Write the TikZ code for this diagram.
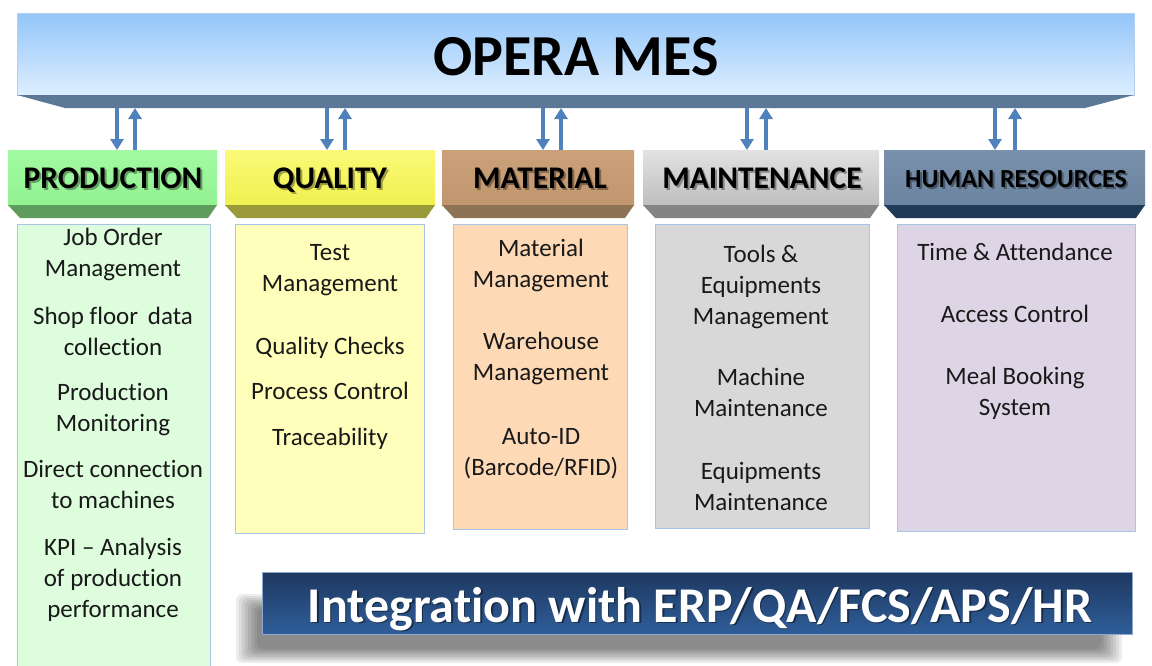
\documentclass[tikz,border=0pt]{standalone}
\usepackage{fontspec}
\setmainfont{Carlito}[Ligatures=NoCommon]
\usetikzlibrary{arrows.meta}
\definecolor{bannerTop}{HTML}{93C6FA}
\definecolor{bannerBot}{HTML}{DDEEFE}
\definecolor{bannerEdge}{HTML}{B5CFEE}
\definecolor{bannerBar}{HTML}{5B7896}
\definecolor{arrowBlue}{HTML}{4F81BD}
\definecolor{boxEdge}{HTML}{A8C4E6}
\definecolor{prodTop}{HTML}{A2FAA2}
\definecolor{prodBot}{HTML}{92F292}
\definecolor{prodBev}{HTML}{5E9C5E}
\definecolor{prodBox}{HTML}{DDFDDD}
\definecolor{qualTop}{HTML}{FAFA78}
\definecolor{qualBot}{HTML}{F0F050}
\definecolor{qualBev}{HTML}{9A9A3A}
\definecolor{qualBox}{HTML}{FFFFBB}
\definecolor{matTop}{HTML}{CBA17A}
\definecolor{matBot}{HTML}{C0966E}
\definecolor{matBev}{HTML}{8E7254}
\definecolor{matBox}{HTML}{FDD9B5}
\definecolor{mntTop}{HTML}{E2E2E2}
\definecolor{mntBot}{HTML}{BEBEBE}
\definecolor{mntBev}{HTML}{848484}
\definecolor{mntBox}{HTML}{D8D8D8}
\definecolor{hrTop}{HTML}{7A91AD}
\definecolor{hrBot}{HTML}{6A839F}
\definecolor{hrBev}{HTML}{213A58}
\definecolor{hrBox}{HTML}{DDD5E6}
\definecolor{intTop}{HTML}{1E3860}
\definecolor{intBot}{HTML}{2F5E99}
\definecolor{intEdge}{HTML}{8FA9CC}
\newcommand{\mkheader}[5]{%
  \shade[top color=#3, bottom color=#4] (#1,150) rectangle (#2,205);
  \fill[#5] (#1,205) -- (#2,205) -- (#2-9,218) -- (#1+12,218) -- cycle;
}
\tikzset{
  link/.style={draw=arrowBlue, line width=4pt, -{Triangle[width=13pt,length=11pt]}},
  hdrtext/.style={font=\fontsize{31.5}{36}\selectfont\bfseries, text=black, inner sep=0, anchor=base},
  hdrshadow/.style={font=\fontsize{31.5}{36}\selectfont\bfseries, text=black, opacity=0.35, inner sep=0, anchor=base},
  item/.style={font=\fontsize{25}{31}\selectfont, text=black!90, align=center, inner sep=0, anchor=north},
  colbox/.style={draw=boxEdge, line width=0.9pt}
}
\begin{document}
\begin{tikzpicture}[x=1pt,y=-1pt]
\useasboundingbox[fill=white] (0,0) rectangle (1152,665);

% ---- top banner ----
\shade[top color=bannerTop, bottom color=bannerBot] (17,13) rectangle (1134,95);
\draw[bannerEdge, line width=0.8pt] (17,13) rectangle (1134,95);
\fill[bannerBar] (17,95) -- (1134,95) -- (1085,108) -- (65,108) -- cycle;
\node[font=\fontsize{58}{64}\selectfont\bfseries, text=black, inner sep=0, anchor=base] (mes) at (576,75) {OPERA MES};

% ---- headers ----
\mkheader{8}{217}{prodTop}{prodBot}{prodBev}
\mkheader{225}{435}{qualTop}{qualBot}{qualBev}
\mkheader{442}{634}{matTop}{matBot}{matBev}
\mkheader{643}{879}{mntTop}{mntBot}{mntBev}
\mkheader{884}{1145}{hrTop}{hrBot}{hrBev}

\node[hdrshadow] (prodS) at (115,190) {PRODUCTION};
\node[hdrtext] (prod) at (113,188) {PRODUCTION};
\node[hdrshadow] (qualS) at (332,190) {QUALITY};
\node[hdrtext] (qual) at (330,188) {QUALITY};
\node[hdrshadow] (matS) at (542,190) {MATERIAL};
\node[hdrtext] (mat) at (540,188) {MATERIAL};
\node[hdrshadow] (mntS) at (764,190) {MAINTENANCE};
\node[hdrtext] (mnt) at (762,188) {MAINTENANCE};
\node[hdrshadow, font=\fontsize{26}{30}\selectfont\bfseries] (hrS) at (1018,189) {HUMAN RESOURCES};
\node[hdrtext, font=\fontsize{26}{30}\selectfont\bfseries] (hr) at (1016,187) {HUMAN RESOURCES};

% ---- arrows ----
\foreach \n/\d/\u in {p/117/135, q/327/345, m/543/561, t/747/766, h/995/1015}{
  \coordinate (\n Dtop) at (\d,108);
  \coordinate (\n Dbot) at (\d,150);
  \coordinate (\n Utop) at (\u,108);
  \coordinate (\n Ubot) at (\u,150);
  \draw[link] (\n Dtop) -- (\n Dbot);
  \draw[link] (\n Ubot) -- (\n Utop);
}

% ---- column boxes ----
\fill[prodBox] (17,224) rectangle (210,670);
\draw[colbox] (17,670) -- (17,224) -- (210,224) -- (210,670);
\filldraw[colbox, fill=qualBox] (235,224) rectangle (424,533);
\filldraw[colbox, fill=matBox] (453,224) rectangle (627,529);
\filldraw[colbox, fill=mntBox] (655,224) rectangle (869,528);
\filldraw[colbox, fill=hrBox] (897,224) rectangle (1135,531);

% production items
\node[item] (p1) at (113,224) {\strut Job Order\\Management};
\node[item] (p2) at (113,303) {\strut Shop floor\, data\\collection};
\node[item] (p3) at (113,379) {\strut Production\\Monitoring};
\node[item] (p4) at (113,456) {\strut Direct connection\\to machines};
\node[item] (p5) at (113,534) {\strut KPI – Analysis\\of production\\performance};
% quality items
\node[item] (q1) at (330,239) {\strut Test\\Management};
\node[item] (q2) at (330,333) {\strut Quality Checks};
\node[item] (q3) at (330,378) {\strut Process Control};
\node[item] (q4) at (330,424) {\strut Traceability};
% material items
\node[item] (m1) at (541,235) {\strut Material\\Management};
\node[item] (m2) at (541,328) {\strut Warehouse\\Management};
\node[item] (m3) at (541,423) {\strut Auto-ID\\(Barcode/RFID)};
% maintenance items
\node[item] (t1) at (761,241) {\strut Tools \&\\Equipments\\Management};
\node[item] (t2) at (761,364) {\strut Machine\\Maintenance};
\node[item] (t3) at (761,458) {\strut Equipments\\Maintenance};
% HR items
\node[item] (h1) at (1015,239) {\strut Time \& Attendance};
\node[item] (h2) at (1015,301) {\strut Access Control};
\node[item] (h3) at (1015,363) {\strut Meal Booking\\System};

% ---- integration banner ----
\foreach \k in {0,...,7}{
  \fill[black, opacity=0.07, rounded corners=6pt] (236+\k*3,594+\k*2) rectangle (1122-\k*3,663-\k*2);
}
\shade[top color=intTop, bottom color=intBot] (262,572) rectangle (1132,634);
\draw[intEdge, line width=0.9pt] (262,572) rectangle (1132,634);
\node[font=\fontsize{50}{56}\selectfont\bfseries, text=black, opacity=0.45, inner sep=0, anchor=base] (intS) at (701.5,623.5) {Integration with ERP/QA/FCS/APS/HR};
\node[font=\fontsize{50}{56}\selectfont\bfseries, text=white, inner sep=0, anchor=base] (int) at (700,622) {Integration with ERP/QA/FCS/APS/HR};
\end{tikzpicture}
\end{document}
